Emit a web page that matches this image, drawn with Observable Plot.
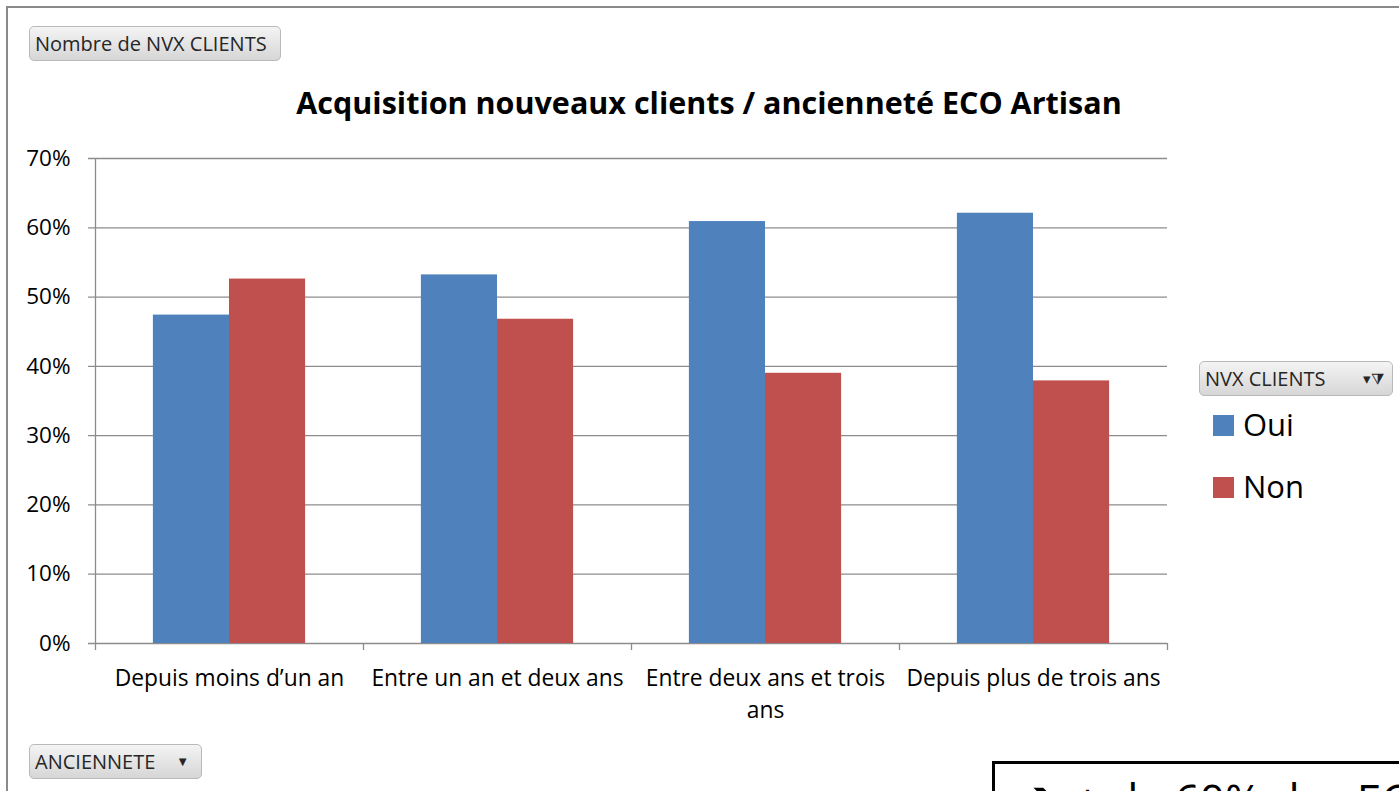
<!DOCTYPE html>
<html>
<head>
<meta charset="utf-8">
<script src="https://cdn.jsdelivr.net/npm/d3@7"></script>
<script src="https://cdn.jsdelivr.net/npm/@observablehq/plot@0.6"></script>
<style>
  body { margin: 0; background: #fff; font-family: "Open Sans", sans-serif; }
  #page { position: relative; width: 1399px; height: 791px; overflow: hidden; background: #fff; }
  #frame { position: absolute; left: 6px; top: 6px; width: 1500px; height: 900px; border-top: 2px solid #8a8a8a; border-left: 2px solid #8a8a8a; }
  .btn { position: absolute; box-sizing: border-box; border: 1px solid #b9b9b9; border-radius: 5px;
         background: linear-gradient(#f4f4f4, #d6d6d6); color: #262626; font-size: 20px; line-height: 33px; padding-left: 5px; white-space: nowrap; }
  #title { position: absolute; left: 0; width: 1418px; top: 81px; text-align: center; font-weight: bold; font-size: 30.5px; color: #000; white-space: nowrap; }
  #chart { position: absolute; left: 0; top: 0; }
  .leg { position: absolute; left: 1213px; font-size: 31px; color: #000; }
  .sw { display: inline-block; width: 21px; height: 21px; vertical-align: middle; margin-right: 9px; position: relative; top: -2px; }
  #note { position: absolute; left: 992px; top: 761px; width: 600px; height: 100px; border-top: 3px solid #000; border-left: 3px solid #000; font-size: 44px; color: #000; }
  #note span { position: absolute; top: 5px; white-space: nowrap; }
</style>
</head>
<body>
<div id="page">
  <div id="frame"></div>
  <div class="btn" style="left:29px;top:26px;width:252px;height:35px;">Nombre de NVX CLIENTS</div>
  <div id="title"></div>
  <div id="chart"></div>
  <div class="btn" style="left:1199px;top:361px;width:194px;height:35px;">NVX CLIENTS<span style="position:absolute;right:8px;top:0;font-size:15px;">&#9662;&#x29E9;</span></div>
  <div id="legend"></div>
  <div class="btn" style="left:29px;top:744px;width:173px;height:35px;">ANCIENNETE<span style="position:absolute;right:12px;top:0;font-size:13px;">&#9660;</span></div>
  <div id="note"><span style="left:14px;top:-8px;font-size:62px;">&#10132;</span><span style="left:80px;">+ de 60% des ECO Artisans</span></div>
</div>
<script>
const titleText = "Acquisition nouveaux clients / ancienneté ECO Artisan";
const categories = ["Depuis moins d’un an", "Entre un an et deux ans", "Entre deux ans et trois ans", "Depuis plus de trois ans"];
const tickLabels = ["Depuis moins d’un an", "Entre un an et deux ans", "Entre deux ans et trois\nans", "Depuis plus de trois ans"];
const series = ["Oui", "Non"];
const ouiValues = [47.4, 53.2, 60.9, 62.1];
const nonValues = [52.6, 46.8, 39.0, 37.9];
const yTicks = [0, 10, 20, 30, 40, 50, 60, 70];
const colors = ["#4F81BD", "#C0504D"];

document.getElementById("title").textContent = titleText;

const rows = [];
categories.forEach((c, i) => {
  rows.push({cat: c, serie: series[0], value: ouiValues[i]});
  rows.push({cat: c, serie: series[1], value: nonValues[i]});
});

const W = 1180, H = 730, mL = 95, mR = 13, mT = 158, mB = 87;
const bw = (W - mL - mR) / categories.length;
const outer = bw * 0.216, barW = bw * 0.284;
const font = "'Open Sans', sans-serif";

const chart = Plot.plot({
  width: W, height: H,
  marginLeft: mL, marginRight: mR, marginTop: mT, marginBottom: mB,
  x: {domain: categories, padding: 0, axis: null},
  y: {domain: [0, 70], axis: null},
  style: {fontFamily: font, fontSize: "20px", color: "#000", background: "transparent", overflow: "visible"},
  marks: [
    Plot.ruleY(yTicks, {y: d => d, stroke: "#8c8c8c", strokeWidth: 1.3, insetLeft: -7}),
    Plot.barY(rows.filter(d => d.serie === series[0]), {x: "cat", y: "value", fill: colors[0], insetLeft: outer, insetRight: bw - outer - barW}),
    Plot.barY(rows.filter(d => d.serie === series[1]), {x: "cat", y: "value", fill: colors[1], insetLeft: outer + barW, insetRight: outer}),
    Plot.ruleX([categories[0]], {x: d => d, dx: -bw / 2, stroke: "#8c8c8c", strokeWidth: 1.3}),
    Plot.ruleX(categories, {x: d => d, y1: 0, y2: 0, dx: -bw / 2, insetBottom: -7, stroke: "#8c8c8c", strokeWidth: 1.3}),
    Plot.ruleX([categories[categories.length - 1]], {x: d => d, y1: 0, y2: 0, dx: bw / 2, insetBottom: -7, stroke: "#8c8c8c", strokeWidth: 1.3}),
    Plot.text(yTicks, {y: d => d, text: d => d + "%", frameAnchor: "left", textAnchor: "end", dx: -25, fill: "#000", fontSize: 22.5}),
    Plot.text(categories, {x: d => d, text: (d, i) => tickLabels[i], frameAnchor: "bottom", lineAnchor: "top", dy: 19, lineHeight: 1.42, fill: "#000", fontSize: 22.8})
  ]
});
document.getElementById("chart").appendChild(chart);

const leg = document.getElementById("legend");
series.forEach((s, i) => {
  const d = document.createElement("div");
  d.className = "leg";
  d.style.top = (403 + i * 62) + "px";
  d.innerHTML = `<span class="sw" style="background:${colors[i]}"></span>${s}`;
  leg.appendChild(d);
});
</script>
</body>
</html>
